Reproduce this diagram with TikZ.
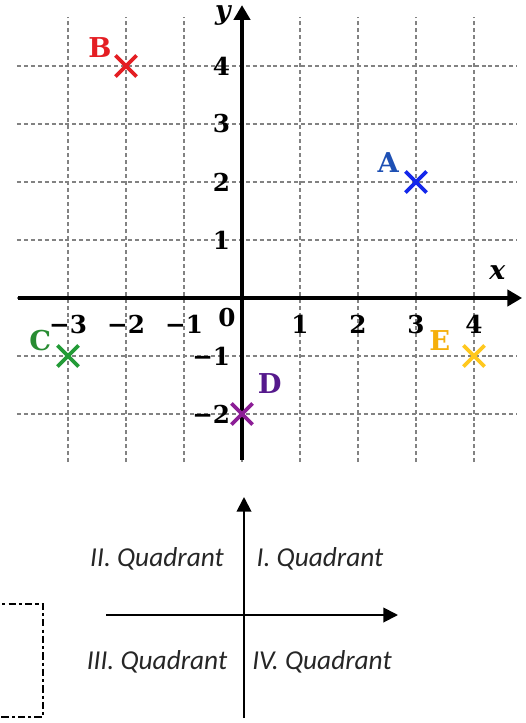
\documentclass[tikz,border=0pt]{standalone}
\usepackage{fontspec}
\setmainfont{DejaVu Serif}
\newfontfamily\quadfont{Carlito}
\usetikzlibrary{arrows.meta,shapes.misc}
\definecolor{colA}{RGB}{20,40,235}
\definecolor{colAl}{RGB}{30,80,180}
\definecolor{colB}{RGB}{228,30,35}
\definecolor{colC}{RGB}{35,155,55}
\definecolor{colCl}{RGB}{40,140,50}
\definecolor{colD}{RGB}{140,30,150}
\definecolor{colDl}{RGB}{85,25,140}
\definecolor{colE}{RGB}{255,200,30}
\definecolor{colEl}{RGB}{245,175,10}
\definecolor{gridgray}{RGB}{130,130,130}
\tikzset{
  gridline/.style={gridgray, line width=1pt, dash pattern=on 3pt off 2.2pt},
  mainaxis/.style={line width=3pt, -{Triangle[length=11pt,width=12pt]}},
  quadaxis/.style={line width=1.4pt, -{Triangle[length=11pt,width=11pt]}},
  tick/.style={font=\fontsize{18.5}{18.5}\selectfont\bfseries, inner sep=0pt},
  ptlabel/.style={font=\fontsize{20.5}{20.5}\selectfont\bfseries, inner sep=0pt},
  axlabel/.style={font=\fontsize{20}{20}\selectfont\bfseries\itshape, inner sep=0pt},
  marker/.style={cross out, draw, line width=2.9pt, minimum size=13pt, inner sep=0pt},
  quadlabel/.style={font=\quadfont\fontsize{20.5}{20.5}\selectfont\itshape, text=black!85, inner sep=0pt},
  dashbox/.style={line width=1.5pt, dash pattern=on 5.5pt off 2.3pt on 2.3pt off 2.3pt}
}
\begin{document}
\begin{tikzpicture}[x=0.75pt,y=-0.75pt]
\useasboundingbox (0,0) rectangle (525,723);
% ---------- coordinate grid ----------
\begin{scope}[shift={(181.5pt,-223.5pt)}, x=43.5pt, y=43.5pt]
  \foreach \i in {-3,...,4} \draw[gridline] (\i,-2.83) -- (\i,4.84);
  \foreach \j in {-2,...,4} \draw[gridline] (-3.88,\j) -- (4.74,\j);
  \coordinate (xs) at (-3.86,0); \coordinate (xe) at (4.83,0);
  \coordinate (ys) at (0,-2.79); \coordinate (ye) at (0,5.05);
  \draw[mainaxis] (xs) -- (xe);
  \draw[mainaxis] (ys) -- (ye);
  \node[axlabel] (xl) at (4.40,0.43) {x};
  \node[axlabel] (yl) at (-0.33,4.87) {y};
  \foreach \i/\t in {-3/−3,-2/−2,-1/−1,1/1,2/2,3/3,4/4}
    \node[tick] (xt\i) at (\i,-0.46) {\t};
  \foreach \j/\t in {-2/−2,-1/−1,1/1,2/2,3/3,4/4}
    \node[tick, anchor=east] (yt\j) at (-0.2,\j) {\t};
  \node[tick] (zero) at (-0.26,-0.33) {0};
  % points
  \node[marker, colA] (A) at (3,2) {};
  \node[marker, colB] (B) at (-2,4) {};
  \node[marker, colC] (C) at (-3,-1) {};
  \node[marker, colD] (D) at (0,-2) {};
  \node[marker, colE] (E) at (4,-1) {};
  \node[ptlabel, text=colAl] (Al) at (2.52,2.33) {A};
  \node[ptlabel, text=colB] (Bl) at (-2.45,4.31) {B};
  \node[ptlabel, text=colCl] (Cl) at (-3.48,-0.74) {C};
  \node[ptlabel, text=colDl] (Dl) at (0.48,-1.48) {D};
  \node[ptlabel, text=colEl] (El) at (3.41,-0.74) {E};
\end{scope}
% ---------- quadrant sketch ----------
\coordinate (qvs) at (244,718); \coordinate (qve) at (244,497);
\coordinate (qhs) at (106,615); \coordinate (qhe) at (398,615);
\draw[quadaxis] (qvs) -- (qve);
\draw[quadaxis] (qhs) -- (qhe);
\node[quadlabel] (q2) at (157,559) {II. Quadrant};
\node[quadlabel] (q1) at (320,559) {I. Quadrant};
\node[quadlabel] (q3) at (157,662) {III. Quadrant};
\node[quadlabel] (q4) at (322,662) {IV. Quadrant};
% ---------- dashed box (cut at left edge) ----------
\coordinate (b1) at (-8,604); \coordinate (b2) at (43,604);
\coordinate (b3) at (43,717); \coordinate (b4) at (-8,717);
\draw[dashbox] (b1) -- (b2) -- (b3) -- (b4);
\end{tikzpicture}
\end{document}
